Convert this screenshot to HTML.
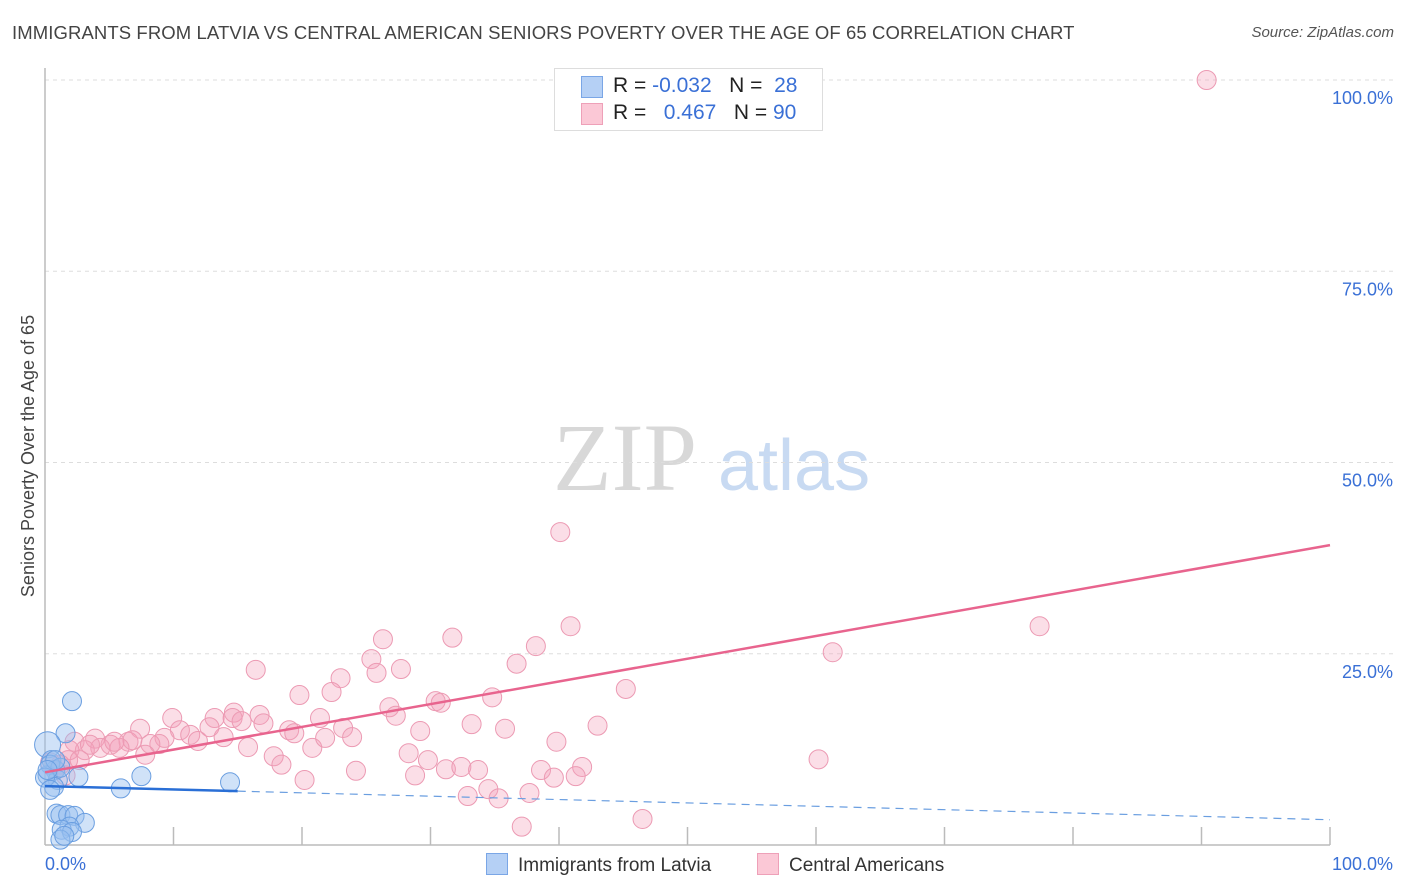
<!DOCTYPE html>
<html><head><meta charset="utf-8"><style>
body{margin:0;background:#fff;font-family:"Liberation Sans",sans-serif;}
#wrap{position:relative;width:1406px;height:892px;overflow:hidden;}
.t{position:absolute;white-space:nowrap;}
</style></head><body>
<div id="wrap">
<div class="t" style="left:12px;top:22px;font-size:18.5px;color:#444;letter-spacing:0.1px;">IMMIGRANTS FROM LATVIA VS CENTRAL AMERICAN SENIORS POVERTY OVER THE AGE OF 65 CORRELATION CHART</div>
<div class="t" style="right:12px;top:24px;font-size:15px;color:#555;font-style:italic;">Source: ZipAtlas.com</div>
<svg id="svg" width="1406" height="892" style="position:absolute;left:0;top:0"></svg>
</div>
<script>
const yTicks=[25,50,75,100];
const yTickLabels=["25.0%","50.0%","75.0%","100.0%"];
const xEndLabels=["0.0%","100.0%"];
const blueX=[2.1,1.6,0.2,0.5,0.8,0.2,1.0,0.7,2.6,7.5,14.4,5.9,0.4,1.2,0.0,0.9,1.2,1.8,2.3,3.1,1.9,1.3,2.1,1.2,1.5,0.8,0.4,0.2];
const blueY=[18.8,14.6,13.1,11.1,9.8,9.1,8.5,7.6,8.9,9.0,8.2,7.4,10.5,10.1,8.8,4.1,3.9,3.9,3.8,2.9,2.4,2.0,1.7,0.7,1.2,11.1,7.2,9.8];
const pinkX=[90.4,40.1,77.4,40.9,38.2,61.3,31.7,26.3,25.4,27.7,36.7,45.2,16.4,23.0,22.3,19.8,25.8,34.8,30.4,30.8,26.8,27.3,21.4,14.7,16.7,13.2,14.6,9.9,15.3,17.0,33.2,35.8,43.0,19.0,19.4,23.2,23.9,29.2,7.4,12.8,10.5,11.3,9.3,13.9,11.9,8.9,3.9,5.1,6.5,6.8,8.2,2.3,4.3,5.8,3.1,20.8,21.8,15.8,17.8,18.4,28.3,29.8,31.2,32.4,33.7,24.2,28.8,38.6,41.8,41.3,39.6,20.2,60.2,39.8,7.8,1.8,1.9,1.2,0.8,1.6,34.5,32.9,35.3,37.7,37.1,46.5,0.4,2.7,3.5,5.4];
const pinkY=[100.0,40.9,28.6,28.6,26.0,25.2,27.1,26.9,24.3,23.0,23.7,20.4,22.9,21.8,20.0,19.6,22.5,19.3,18.8,18.6,18.0,16.9,16.6,17.3,17.0,16.6,16.6,16.6,16.2,15.9,15.8,15.2,15.6,15.0,14.6,15.3,14.1,14.9,15.2,15.4,15.0,14.4,14.0,14.1,13.6,13.2,13.9,13.1,13.5,13.7,13.2,13.5,12.7,12.7,12.4,12.7,14.0,12.8,11.6,10.5,12.0,11.1,9.9,10.2,9.8,9.7,9.1,9.8,10.2,9.0,8.8,8.5,11.2,13.5,11.8,11.1,12.4,10.5,9.8,9.1,7.3,6.4,6.1,6.8,2.4,3.4,10.8,11.1,13.1,13.5];
const pinkTrend=[9.5,39.2];
const blueTrend=[7.7,3.3];
const blueSolidEnd=15;

const X0=45,X1=1330,Y0=845,Y100=80;
const sx=v=>X0+(X1-X0)*v/100;
const sy=v=>Y0-(Y0-Y100)*v/100;
const svg=document.getElementById('svg');
const NS='http://www.w3.org/2000/svg';
function mk(tag,attrs,parent){const e=document.createElementNS(NS,tag);for(const k in attrs)e.setAttribute(k,attrs[k]);(parent||svg).appendChild(e);return e;}

let w=mk('text',{x:553,y:490,'font-size':96,'font-family':'Liberation Serif, serif',fill:'#d8d8d8'});w.textContent='ZIP';


let w2=mk('text',{x:718,y:490,'font-size':72,'font-family':'Liberation Sans, sans-serif',fill:'#c8daf2'});w2.textContent='atlas';



yTicks.forEach((t,i)=>{
  const g=mk('line',{x1:X0,x2:1394,y1:sy(t),y2:sy(t),stroke:'#ddd','stroke-dasharray':'4,4'});
  
  
  const l=mk('text',{x:1393,y:sy(t)+24,'text-anchor':'end','font-size':18,fill:'#3a70d6','font-family':'Liberation Sans, sans-serif'});
  l.textContent=yTickLabels[i];
  
  
});
let ya=mk('line',{x1:X0,x2:X0,y1:68,y2:Y0,stroke:'#bbb','stroke-width':1.5});


let xa=mk('line',{x1:X0,x2:X1,y1:Y0,y2:Y0,stroke:'#bbb','stroke-width':1.5});


for(let i=1;i<=10;i++){
  const tk=mk('line',{x1:sx(i*10),x2:sx(i*10),y1:Y0-18,y2:Y0,stroke:'#bbb','stroke-width':1.5});
  
  
}
let xl0=mk('text',{x:45,y:870,'font-size':18,fill:'#3a70d6','font-family':'Liberation Sans, sans-serif'});xl0.textContent=xEndLabels[0];


let xl1=mk('text',{x:1393,y:870,'text-anchor':'end','font-size':18,fill:'#3a70d6','font-family':'Liberation Sans, sans-serif'});xl1.textContent=xEndLabels[1];


let yt=mk('text',{x:34,y:456,'text-anchor':'middle','font-size':18,fill:'#444',transform:'rotate(-90 34 456)','font-family':'Liberation Sans, sans-serif'});yt.textContent='Seniors Poverty Over the Age of 65';



pinkX.forEach((x,i)=>{
  const c=mk('circle',{cx:sx(x),cy:sy(pinkY[i]),r:9.5,fill:'rgba(244,160,185,0.35)',stroke:'#ec9ab3','stroke-width':1});
  
  
});
blueX.forEach((x,i)=>{
  const c=mk('circle',{cx:sx(x),cy:sy(blueY[i]),r:i==2?13:9.5,fill:'rgba(150,190,240,0.45)',stroke:'#6a9ee0','stroke-width':1});
  
  
});
let pt=mk('line',{x1:sx(0),y1:sy(pinkTrend[0]),x2:sx(100),y2:sy(pinkTrend[1]),stroke:'#e8648e','stroke-width':2.5});


const by=v=>blueTrend[0]+(blueTrend[1]-blueTrend[0])*v/100;
let bt=mk('line',{x1:sx(0),y1:sy(by(0)),x2:sx(blueSolidEnd),y2:sy(by(blueSolidEnd)),stroke:'#2a6fd6','stroke-width':2.5});


let bd=mk('line',{x1:sx(blueSolidEnd),y1:sy(by(blueSolidEnd)),x2:sx(100),y2:sy(by(100)),stroke:'#6a9ee0','stroke-width':1.2,'stroke-dasharray':'8,6'});


</script>
<div class="t" style="left:554px;top:68px;width:267px;height:61px;border:1px solid #ddd;background:#fff;font-size:21px;color:#222;">
 <div style="position:absolute;left:26px;top:7px;width:20px;height:20px;background:#b5d0f5;border:1px solid #7aa6e6;"></div>
 <div style="position:absolute;left:58px;top:5px;">R = <span style="color:#3a70d6">-0.032</span>&nbsp;&nbsp;&nbsp;N = &nbsp;<span style="color:#3a70d6">28</span></div>
 <div style="position:absolute;left:26px;top:34px;width:20px;height:20px;background:#fbc8d6;border:1px solid #eea0b8;"></div>
 <div style="position:absolute;left:58px;top:32px;">R = &nbsp;&nbsp;<span style="color:#3a70d6">0.467</span>&nbsp;&nbsp;&nbsp;N = <span style="color:#3a70d6">90</span></div>
</div>
<div class="t" style="left:486px;top:853px;font-size:19px;color:#333;"><span style="display:inline-block;width:20px;height:20px;background:#b5d0f5;border:1px solid #7aa6e6;vertical-align:-4px;margin-right:10px;"></span>Immigrants from Latvia</div>
<div class="t" style="left:757px;top:853px;font-size:19px;color:#333;"><span style="display:inline-block;width:20px;height:20px;background:#fbc8d6;border:1px solid #eea0b8;vertical-align:-4px;margin-right:10px;"></span>Central Americans</div>
</body></html>
